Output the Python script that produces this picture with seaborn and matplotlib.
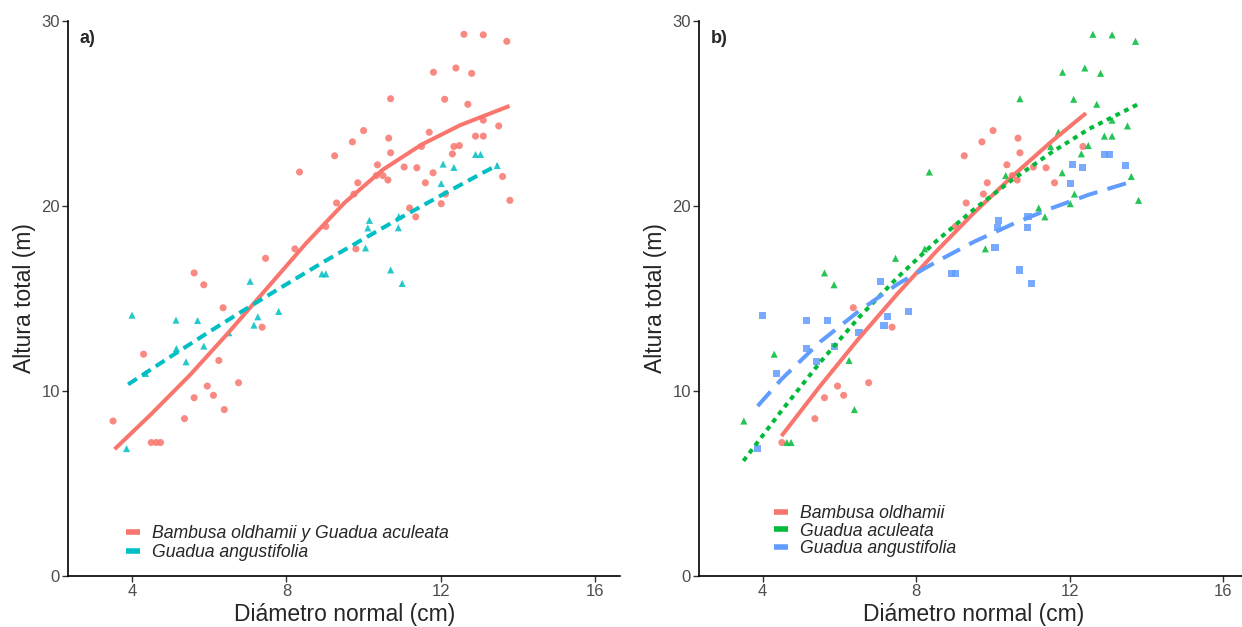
import numpy as np
import pandas as pd
import matplotlib
matplotlib.use('Agg')
import matplotlib.pyplot as plt
import seaborn as sns
from matplotlib.lines import Line2D

# Diameter (cm) and total height (m)
oldhamii_d = [10.00, 9.71, 10.65, 9.25, 10.70, 10.36, 12.34, 11.05, 11.38, 11.60, 9.85, 10.50,
              10.63, 9.75, 9.30, 9.02, 6.36, 7.37, 5.95, 6.76, 5.61, 6.11, 5.36, 4.50]
oldhamii_h = [24.06, 23.45, 23.65, 22.70, 22.86, 22.21, 23.20, 22.09, 22.05, 21.24, 21.24, 21.63,
              21.39, 20.63, 20.15, 18.88, 14.49, 13.44, 10.26, 10.44, 9.63, 9.76, 8.50, 7.21]

aculeata_d = [12.60, 13.10, 13.71, 11.81, 12.39, 12.80, 10.70, 12.10, 12.70, 11.70, 13.10, 13.50,
              8.34, 12.48, 12.90, 13.10, 12.30, 11.50, 11.80, 10.33, 12.12, 12.01, 13.60, 13.79,
              11.19, 11.35, 9.80, 8.22, 7.46, 5.61, 5.86, 4.30, 6.25, 6.39, 3.51, 4.63, 4.74]
aculeata_h = [29.26, 29.23, 28.88, 27.21, 27.44, 27.15, 25.78, 25.75, 25.48, 23.97, 24.62, 24.31,
              21.82, 23.25, 23.76, 23.76, 22.80, 23.20, 21.78, 21.63, 20.63, 20.11, 21.58, 20.29,
              19.88, 19.40, 17.67, 17.67, 17.16, 16.37, 15.73, 11.98, 11.64, 8.99, 8.37, 7.21, 7.21]

angustifolia_d = [10.15, 10.11, 10.05, 10.90, 10.91, 12.06, 12.34, 12.01, 12.90, 13.03, 13.46,
                  8.92, 9.02, 10.70, 11.00, 7.06, 4.00, 5.14, 5.70, 7.26, 7.16, 7.80, 5.15,
                  5.86, 5.40, 3.86, 4.35, 6.51]
angustifolia_h = [19.21, 18.80, 17.72, 18.81, 19.42, 22.25, 22.07, 21.20, 22.77, 22.77, 22.17,
                  16.32, 16.32, 16.53, 15.80, 15.92, 14.09, 13.82, 13.80, 14.00, 13.55, 14.29, 12.29,
                  12.42, 11.57, 6.88, 10.94, 13.14]

# fitted height-diameter curves
curve_a_bg_d = [3.55, 4.5, 5.5, 6.5, 7.5, 8.5, 9.5, 10.5, 11.5, 12.5, 13.78]
curve_a_bg_h = [6.85, 8.75, 10.85, 13.15, 15.55, 17.95, 20.15, 21.95, 23.3, 24.35, 25.39]
curve_a_ga_d = [3.9, 5, 6, 7, 8, 9, 10, 11, 12, 13, 13.48]
curve_a_ga_h = [10.35, 11.85, 13.19, 14.49, 15.76, 17.01, 18.21, 19.40, 20.55, 21.68, 22.21]

curve_b_bo_d = [4.49, 5.5, 6.5, 7.5, 8.5, 9.5, 10.5, 11.5, 12.42]
curve_b_bo_h = [7.56, 10.27, 12.82, 15.22, 17.49, 19.61, 21.59, 23.43, 25.0]
curve_b_gac_d = [3.5, 4.5, 5.5, 6.5, 7.5, 8.5, 9.5, 10.5, 11.5, 12.5, 13.83]
curve_b_gac_h = [6.22, 8.95, 11.55, 13.95, 16.1, 18.05, 19.8, 21.4, 22.85, 24.15, 25.54]
curve_b_gan_d = [3.87, 4.5, 5.5, 6.5, 7.5, 8.5, 9.5, 10.5, 11.5, 12.5, 13.48]
curve_b_gan_h = [9.18, 10.65, 12.65, 14.3, 15.75, 16.95, 18.05, 19.0, 19.85, 20.6, 21.22]

species_b = ['Bambusa oldhamii', 'Guadua aculeata', 'Guadua angustifolia']
groups_a = ['Bambusa oldhamii y Guadua aculeata', 'Guadua angustifolia']

df = pd.DataFrame({
    'd': oldhamii_d + aculeata_d + angustifolia_d,
    'h': oldhamii_h + aculeata_h + angustifolia_h,
    'especie': [species_b[0]] * len(oldhamii_d) + [species_b[1]] * len(aculeata_d)
               + [species_b[2]] * len(angustifolia_d),
})
df['grupo'] = np.where(df['especie'] == species_b[2], groups_a[1], groups_a[0])

pal_a = ['#F8766D', '#00BFC4']
pal_b = ['#F8766D', '#00BA38', '#619CFF']

sns.set_style('ticks')
plt.rcParams['font.family'] = ['Liberation Sans', 'DejaVu Sans']

fig = plt.figure(figsize=(12.42, 6.27), dpi=100)
ax1 = fig.add_axes([68.3 / 1242, 51 / 627, 552 / 1242, 555.4 / 627])
ax2 = fig.add_axes([699.3 / 1242, 51 / 627, 549.1 / 1242, 555.4 / 627])

lw = 2.9

# a)
sns.scatterplot(data=df, x='d', y='h', hue='grupo', style='grupo', hue_order=groups_a,
                style_order=groups_a, markers=['o', '^'], palette=pal_a, s=26,
                edgecolor='none', alpha=0.85, legend=False, ax=ax1)
ax1.plot(curve_a_bg_d, curve_a_bg_h, color=pal_a[0], lw=lw, solid_capstyle='butt',
         solid_joinstyle='round')
ax1.plot(curve_a_ga_d, curve_a_ga_h, color=pal_a[1], lw=lw, dashes=(2.6, 1.5),
         dash_capstyle='butt')

# b)
sns.scatterplot(data=df, x='d', y='h', hue='especie', style='especie', hue_order=species_b,
                style_order=species_b, markers=['o', '^', 's'], palette=pal_b, s=26,
                edgecolor='none', alpha=0.85, legend=False, ax=ax2)
ax2.plot(curve_b_bo_d, curve_b_bo_h, color=pal_b[0], lw=lw, solid_capstyle='butt',
         solid_joinstyle='round')
ax2.plot(curve_b_gac_d, curve_b_gac_h, color=pal_b[1], lw=lw, dashes=(1.2, 1.2),
         dash_capstyle='butt')
ax2.plot(curve_b_gan_d, curve_b_gan_h, color=pal_b[2], lw=lw, dashes=(4.8, 2.6),
         dash_capstyle='butt')

leg_font = dict(style='italic', size=12.7)
for ax, labels, cols, anchor, sp in [(ax1, groups_a, pal_a, (0.1045, 0.092), 0.12),
                                     (ax2, species_b, pal_b, (0.136, 0.128), 0.04)]:
    handles = [Line2D([], [], color=c, lw=4, solid_capstyle='butt') for c in cols]
    ax.legend(handles, labels, loc='upper left', bbox_to_anchor=anchor, frameon=False,
              borderpad=0, borderaxespad=0, handlelength=0.8, handletextpad=0.7,
              labelspacing=sp, prop=leg_font)

for ax, tag in [(ax1, 'a)'), (ax2, 'b)')]:
    ax.set_xlim(2.35, 16.65)
    ax.set_ylim(0, 30)
    ax.set_xticks([4, 8, 12, 16])
    ax.set_yticks([0, 10, 20, 30])
    ax.set_xlabel('Diámetro normal (cm)', fontsize=16.5, labelpad=3)
    ax.set_ylabel('Altura total (m)', fontsize=16.5, labelpad=4)
    ax.tick_params(direction='out', length=4, width=1, color='#333333',
                   labelcolor='#4D4D4D', labelsize=12, pad=2)
    for side in ['left', 'bottom']:
        ax.spines[side].set_linewidth(1.2)
        ax.spines[side].set_color('black')
    sns.despine(ax=ax)
    ax.text(0.021, 0.983, tag, transform=ax.transAxes, fontsize=13, fontweight='bold',
            va='top', ha='left')

fig.savefig('out.png', dpi=100)
